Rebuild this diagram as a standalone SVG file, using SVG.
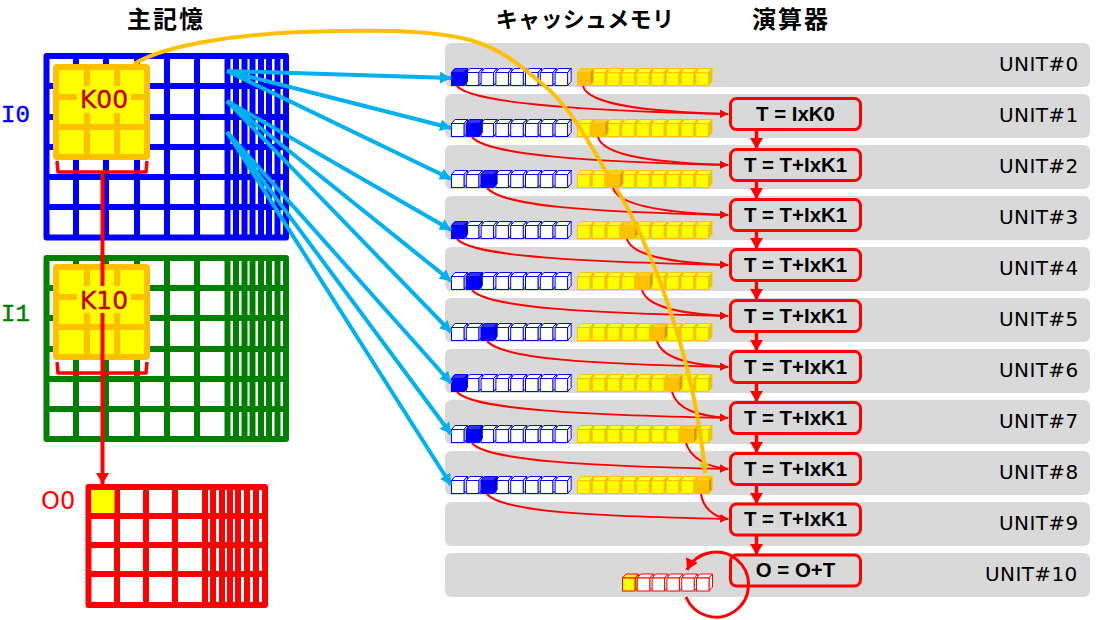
<svg xmlns="http://www.w3.org/2000/svg" width="1098" height="620" viewBox="0 0 1098 620">
<style>
.title{font-family:"Noto Sans CJK JP",sans-serif;font-weight:700;font-size:24px;letter-spacing:2px;fill:#000;text-anchor:middle}
.title2{font-size:22px;letter-spacing:.3px}
.unit{font-family:"DejaVu Sans",sans-serif;font-size:20px;letter-spacing:.4px;fill:#000}
.op{font-family:"Liberation Sans",Arial,sans-serif;font-weight:700;font-size:20.4px;fill:#000;text-anchor:middle}
.kt{font-family:"DejaVu Sans",sans-serif;font-size:25px;fill:#C00000;stroke:#C00000;stroke-width:.4;text-anchor:middle}
.lab{font-family:"Liberation Mono",monospace;font-size:24px;stroke-width:.5}
.row{fill:#D9D9D9}
.opbox{fill:#D9D9D9;stroke:#F00;stroke-width:3}
.gl{fill:none;stroke-linejoin:round}
.kb{fill:#FF0;stroke:#FFC000;stroke-width:6;stroke-linejoin:round}
.kl{fill:none;stroke:#FFC000;stroke-width:6}
.thin{fill:none;stroke:#F00;stroke-width:2}
.flow{fill:none;stroke:#F00;stroke-width:3.5}
.feed{fill:none;stroke:#00B0F0;stroke-width:4}
</style>
<defs>
<marker id="ah" markerUnits="userSpaceOnUse" markerWidth="9" markerHeight="9" refX="8" refY="4" orient="auto"><path d="M0 0L8 4L0 8z" fill="#F00"/></marker>
<marker id="ahb" markerUnits="userSpaceOnUse" markerWidth="13" markerHeight="13" refX="11" refY="6.5" orient="auto"><path d="M0 0L11 6.5L0 13z" fill="#F00"/></marker>
<marker id="ahc" markerUnits="userSpaceOnUse" markerWidth="12" markerHeight="12" refX="11" refY="6" orient="auto"><path d="M0 0L11 6L0 12z" fill="#00B0F0"/></marker>
<marker id="aho" markerUnits="userSpaceOnUse" markerWidth="12" markerHeight="12" refX="10" refY="5" orient="auto"><path d="M0 0L10 5L0 10z" fill="#FFC000"/></marker>
<g id="cw"><path d="M0 0L3.5-4H16L12.5 0z" fill="#fff" stroke="#00F"/><path d="M12.5 0L16-4V9L12.5 13z" fill="#fff" stroke="#00F"/><rect width="12.5" height="13" fill="#fff" stroke="#00F"/></g>
<g id="cb"><path d="M0 0L3.5-4H16L12.5 0z" fill="#3333FF" stroke="#00F"/><path d="M12.5 0L16-4V9L12.5 13z" fill="#0000CC" stroke="#00F"/><rect width="12.5" height="13" fill="#00F" stroke="#00F"/></g>
<g id="cy"><path d="M0 0L3.5-4H16L12.5 0z" fill="#FFFF33" stroke="#FFC000"/><path d="M12.5 0L16-4V9L12.5 13z" fill="#D9CC00" stroke="#FFC000"/><rect width="12.5" height="13" fill="#FF0" stroke="#FFC000"/></g>
<g id="co"><path d="M0 0L3.5-4H16L12.5 0z" fill="#FFCD33" stroke="#FFC000"/><path d="M12.5 0L16-4V9L12.5 13z" fill="#CC9A00" stroke="#FFC000"/><rect width="12.5" height="13" fill="#FFC000" stroke="#FFC000"/></g>
<g id="cr"><path d="M0 0L3.5-4H16L12.5 0z" fill="#fff" stroke="#F00"/><path d="M12.5 0L16-4V9L12.5 13z" fill="#fff" stroke="#F00"/><rect width="12.5" height="13" fill="#fff" stroke="#F00"/></g>
<g id="cry"><path d="M0 0L3.5-4H16L12.5 0z" fill="#FFFF33" stroke="#F00"/><path d="M12.5 0L16-4V9L12.5 13z" fill="#D9CC00" stroke="#F00"/><rect width="12.5" height="13" fill="#FF0" stroke="#F00"/></g>
<g id="brow"><use href="#cw" x="0"/><use href="#cw" x="14.8"/><use href="#cw" x="29.6"/><use href="#cw" x="44.4"/><use href="#cw" x="59.2"/><use href="#cw" x="74"/><use href="#cw" x="88.8"/><use href="#cw" x="103.6"/></g>
<g id="yrow"><use href="#cy" x="0"/><use href="#cy" x="14.8"/><use href="#cy" x="29.6"/><use href="#cy" x="44.4"/><use href="#cy" x="59.2"/><use href="#cy" x="74"/><use href="#cy" x="88.8"/><use href="#cy" x="103.6"/><use href="#cy" x="118.4"/></g>
<g id="kblock"><rect x="56" y="3" width="91" height="90" class="kb" rx="1"/><path class="kl" d="M87 3V93M117 3V93M56 33H147M56 63H147"/><rect x="77" y="22" width="54" height="27" fill="#FF0"/></g>
<path id="bracket" d="M57 0L58 11H146L147 0" fill="none" stroke="#F00" stroke-width="3.5" stroke-linejoin="round"/>
</defs>

<g id="titles">
<text class="title" x="166" y="28">主記憶</text>
<text class="title title2" x="585" y="27">キャッシュメモリ</text>
<text class="title" x="791" y="28">演算器</text>
</g>

<g id="unit0"><rect class="row" x="445" y="43" width="645" height="44" rx="6"/><use href="#brow" x="451.5" y="72.5"/><use href="#yrow" x="577.5" y="72.5"/><use href="#cb" x="451.5" y="72.5"/><use href="#co" x="577.5" y="72.5"/><text class="unit" x="999" y="71">UNIT#0</text></g>
<g id="unit1"><rect class="row" x="445" y="94" width="645" height="44" rx="6"/><use href="#brow" x="451.5" y="123.5"/><use href="#yrow" x="577.5" y="123.5"/><use href="#cb" x="466.3" y="123.5"/><use href="#co" x="592.3" y="123.5"/><text class="unit" x="999" y="122">UNIT#1</text></g>
<g id="unit2"><rect class="row" x="445" y="145" width="645" height="44" rx="6"/><use href="#brow" x="451.5" y="174.5"/><use href="#yrow" x="577.5" y="174.5"/><use href="#cb" x="481.1" y="174.5"/><use href="#co" x="607.1" y="174.5"/><text class="unit" x="999" y="173">UNIT#2</text></g>
<g id="unit3"><rect class="row" x="445" y="196" width="645" height="44" rx="6"/><use href="#brow" x="451.5" y="225.5"/><use href="#yrow" x="577.5" y="225.5"/><use href="#cb" x="451.5" y="225.5"/><use href="#co" x="621.9" y="225.5"/><text class="unit" x="999" y="224">UNIT#3</text></g>
<g id="unit4"><rect class="row" x="445" y="247" width="645" height="44" rx="6"/><use href="#brow" x="451.5" y="276.5"/><use href="#yrow" x="577.5" y="276.5"/><use href="#cb" x="466.3" y="276.5"/><use href="#co" x="636.7" y="276.5"/><text class="unit" x="999" y="275">UNIT#4</text></g>
<g id="unit5"><rect class="row" x="445" y="298" width="645" height="44" rx="6"/><use href="#brow" x="451.5" y="327.5"/><use href="#yrow" x="577.5" y="327.5"/><use href="#cb" x="481.1" y="327.5"/><use href="#co" x="651.5" y="327.5"/><text class="unit" x="999" y="326">UNIT#5</text></g>
<g id="unit6"><rect class="row" x="445" y="349" width="645" height="44" rx="6"/><use href="#brow" x="451.5" y="378.5"/><use href="#yrow" x="577.5" y="378.5"/><use href="#cb" x="451.5" y="378.5"/><use href="#co" x="666.3" y="378.5"/><text class="unit" x="999" y="377">UNIT#6</text></g>
<g id="unit7"><rect class="row" x="445" y="400" width="645" height="44" rx="6"/><use href="#brow" x="451.5" y="429.5"/><use href="#yrow" x="577.5" y="429.5"/><use href="#cb" x="466.3" y="429.5"/><use href="#co" x="681.1" y="429.5"/><text class="unit" x="999" y="428">UNIT#7</text></g>
<g id="unit8"><rect class="row" x="445" y="451" width="645" height="44" rx="6"/><use href="#brow" x="451.5" y="480.5"/><use href="#yrow" x="577.5" y="480.5"/><use href="#cb" x="481.1" y="480.5"/><use href="#co" x="695.9" y="480.5"/><text class="unit" x="999" y="479">UNIT#8</text></g>
<g id="unit9"><rect class="row" x="445" y="502" width="645" height="44" rx="6"/><text class="unit" x="999" y="530">UNIT#9</text></g>
<g id="unit10"><rect class="row" x="445" y="553" width="645" height="44" rx="6"/><use href="#cry" x="622.5" y="578"/><use href="#cr" x="637.3" y="578"/><use href="#cr" x="652.1" y="578"/><use href="#cr" x="666.9" y="578"/><use href="#cr" x="681.7" y="578"/><use href="#cr" x="696.5" y="578"/><text class="unit" x="985" y="581">UNIT#10</text></g>

<g id="I0">
<path class="gl" stroke="#00F" stroke-width="6" d="M46.5 56H286V237.5H46.5zM76 56V237.5M106 56V237.5M137 56V237.5M167 56V237.5M197 56V237.5M46.5 86H286M46.5 117H286M46.5 147H286M46.5 177H286M46.5 207H286M227.5 56V237.5M236 56V237.5M244.5 56V237.5M252.5 56V237.5M261 56V237.5M269 56V237.5M277.5 56V237.5"/>
<text class="lab" x="1" y="122" fill="#00F" stroke="#00F">I0</text>
</g>
<g id="I1">
<path class="gl" stroke="#008000" stroke-width="6" d="M46.5 258H286V439H46.5zM76 258V439M106 258V439M137 258V439M167 258V439M197 258V439M46.5 288H286M46.5 318H286M46.5 349H286M46.5 379H286M46.5 409H286M227.5 258V439M236 258V439M244.5 258V439M252.5 258V439M261 258V439M269 258V439M277.5 258V439"/>
<text class="lab" x="1" y="321" fill="#008000" stroke="#008000">I1</text>
</g>
<g id="O0">
<path class="gl" stroke="#F00" stroke-width="6" d="M88.5 487H265V605H88.5zM117 487V605M146 487V605M175 487V605M88.5 516H265M88.5 545H265M88.5 574H265M205 487V605M213 487V605M222 487V605M230 487V605M238 487V605M247 487V605M256 487V605"/>
<rect x="91.5" y="490" width="23" height="23" fill="#FF0"/>
<text x="41" y="509" font-family="DejaVu Sans,sans-serif" font-size="24" fill="#F00">O0</text>
</g>

<g id="K00"><use href="#kblock" y="64"/><text class="kt" x="104" y="108">K00</text></g>
<g id="K10"><use href="#kblock" y="264"/></g>

<g id="op1"><rect class="opbox" x="730.5" y="98.5" width="130" height="31" rx="6"/><text class="op" x="795.5" y="121">T = IxK0</text></g>
<g id="op2"><rect class="opbox" x="730.5" y="149.5" width="130" height="31" rx="6"/><text class="op" x="795.5" y="172">T = T+IxK1</text></g>
<g id="op3"><rect class="opbox" x="730.5" y="199.5" width="130" height="31" rx="6"/><text class="op" x="795.5" y="222">T = T+IxK1</text></g>
<g id="op4"><rect class="opbox" x="730.5" y="249.5" width="130" height="31" rx="6"/><text class="op" x="795.5" y="272">T = T+IxK1</text></g>
<g id="op5"><rect class="opbox" x="730.5" y="300.5" width="130" height="31" rx="6"/><text class="op" x="795.5" y="323">T = T+IxK1</text></g>
<g id="op6"><rect class="opbox" x="730.5" y="351.5" width="130" height="31" rx="6"/><text class="op" x="795.5" y="374">T = T+IxK1</text></g>
<g id="op7"><rect class="opbox" x="730.5" y="402.5" width="130" height="31" rx="6"/><text class="op" x="795.5" y="425">T = T+IxK1</text></g>
<g id="op8"><rect class="opbox" x="730.5" y="453.5" width="130" height="31" rx="6"/><text class="op" x="795.5" y="476">T = T+IxK1</text></g>
<g id="op9"><rect class="opbox" x="730.5" y="504" width="130" height="31" rx="6"/><text class="op" x="795.5" y="526">T = T+IxK1</text></g>
<g id="op10"><rect class="opbox" x="730.5" y="555" width="130" height="31" rx="6"/><text class="op" x="795.5" y="577">O = O+T</text></g>

<g id="connectors">
<use href="#bracket" y="161"/>
<use href="#bracket" y="362"/>
<path d="M102.5 172V484" fill="none" stroke="#F00" stroke-width="4" marker-end="url(#ahb)"/>
<path class="feed" marker-end="url(#ahc)" d="M227 71L451 78"/>
<path class="feed" marker-end="url(#ahc)" d="M227 71L451 128"/>
<path class="feed" marker-end="url(#ahc)" d="M227 71L451 179"/>
<path class="feed" marker-end="url(#ahc)" d="M227 101L451 230"/>
<path class="feed" marker-end="url(#ahc)" d="M227 101L451 281"/>
<path class="feed" marker-end="url(#ahc)" d="M227 101L451 332"/>
<path class="feed" marker-end="url(#ahc)" d="M227 132L451 383"/>
<path class="feed" marker-end="url(#ahc)" d="M227 132L451 434"/>
<path class="feed" marker-end="url(#ahc)" d="M227 132L451 485"/>
<path class="thin" marker-end="url(#ah)" d="M457 86C472 104 590 111 728 114"/>
<path class="thin" marker-end="url(#ah)" d="M472 137C487 155 590 162 728 165"/>
<path class="thin" marker-end="url(#ah)" d="M487 188C502 206 590 212 728 215"/>
<path class="thin" marker-end="url(#ah)" d="M457 239C472 257 590 262 728 265"/>
<path class="thin" marker-end="url(#ah)" d="M472 290C487 308 590 313 728 316"/>
<path class="thin" marker-end="url(#ah)" d="M487 341C502 359 590 364 728 367"/>
<path class="thin" marker-end="url(#ah)" d="M457 392C472 410 590 415 728 418"/>
<path class="thin" marker-end="url(#ah)" d="M472 443C487 461 590 466 728 469"/>
<path class="thin" marker-end="url(#ah)" d="M487 494C502 512 590 516 728 519"/>
<path class="thin" marker-end="url(#ah)" d="M583 86C588 106 655 112 728 114"/>
<path class="thin" marker-end="url(#ah)" d="M598 137C603 157 662 163 728 165"/>
<path class="thin" marker-end="url(#ah)" d="M613 188C618 206 670 213 728 215"/>
<path class="thin" marker-end="url(#ah)" d="M627 239C632 257 677 263 728 265"/>
<path class="thin" marker-end="url(#ah)" d="M642 290C647 308 684 314 728 316"/>
<path class="thin" marker-end="url(#ah)" d="M657 341C662 359 692 365 728 367"/>
<path class="thin" marker-end="url(#ah)" d="M672 392C677 410 699 416 728 418"/>
<path class="thin" marker-end="url(#ah)" d="M686 443C690 457 706 467 728 469"/>
<path class="thin" marker-end="url(#ah)" d="M701 494C703 508 714 517 728 519"/>
<path class="flow" marker-end="url(#ahb)" d="M756.5 131V149"/>
<path class="flow" marker-end="url(#ahb)" d="M756.5 182V199"/>
<path class="flow" marker-end="url(#ahb)" d="M756.5 232V249"/>
<path class="flow" marker-end="url(#ahb)" d="M756.5 282V300"/>
<path class="flow" marker-end="url(#ahb)" d="M756.5 333V351"/>
<path class="flow" marker-end="url(#ahb)" d="M756.5 384V402"/>
<path class="flow" marker-end="url(#ahb)" d="M756.5 435V453"/>
<path class="flow" marker-end="url(#ahb)" d="M756.5 486V504"/>
<path class="flow" marker-end="url(#ahb)" d="M756.5 536V555"/>
<path class="flow" style="stroke-width:3" marker-end="url(#ahb)" d="M686 597A32.5 32.5 0 1 0 687 570"/>
<path fill="none" stroke="#FFC000" stroke-width="4" marker-end="url(#aho)" d="M134 64C165 45 240 32 340 31C400 30 440 32 470 40C505 50 525 70 540 82C570 105 590 145 610 178C650 240 695 360 705 473"/>
</g>
<g id="K10-label"><rect x="77" y="286" width="54" height="27" fill="#FF0"/><text class="kt" x="104" y="309">K10</text></g>
</svg>
